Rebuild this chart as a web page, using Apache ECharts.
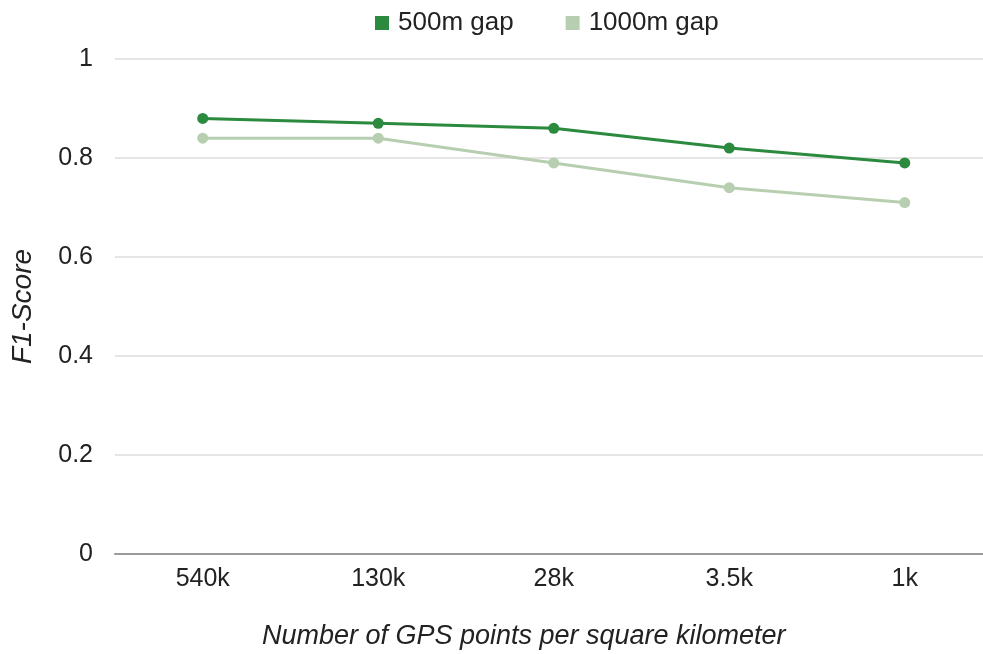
<!DOCTYPE html>
<html><head><meta charset="utf-8">
<script src="https://cdn.jsdelivr.net/npm/echarts@6/dist/echarts.min.js"></script>
<style>html,body{margin:0;padding:0;background:#fff}#c{width:983px;height:654px}</style>
</head><body><div id="c"></div>
<script>
const categories = ['540k', '130k', '28k', '3.5k', '1k'];
const gap500 = [0.88, 0.87, 0.86, 0.82, 0.79];
const gap1000 = [0.84, 0.84, 0.79, 0.74, 0.71];
const yTicks = [0, 0.2, 0.4, 0.6, 0.8, 1];

const chart = echarts.init(document.getElementById('c'));
const font = '"Liberation Sans", Arial, sans-serif';
chart.setOption({
  animation: false,
  textStyle: { fontFamily: font },
  legend: {
    top: 5, left: 370, itemGap: 52, itemWidth: 14, itemHeight: 14,
    icon: 'rect',
    textStyle: { fontSize: 26, color: '#222', fontFamily: font, padding: [0, 0, 0, 4] },
    data: ['500m gap', '1000m gap']
  },
  grid: { left: 115, top: 59, width: 877.5, height: 495, outerBoundsMode: 'none', containLabel: false },
  xAxis: {
    type: 'category', data: categories, boundaryGap: true,
    name: 'Number of GPS points per square kilometer', nameLocation: 'middle', nameGap: 69,
    nameTextStyle: { fontSize: 27, fontStyle: 'italic', color: '#222', fontFamily: font, padding: [0, 60, 0, 0] },
    axisLine: { lineStyle: { color: '#999', width: 2 } },
    axisTick: { show: false },
    axisLabel: { fontSize: 25, color: '#222', margin: 13, fontFamily: font }
  },
  yAxis: {
    type: 'value', min: 0, max: 1, interval: 0.2,
    name: 'F1-Score', nameLocation: 'middle', nameGap: 78,
    nameTextStyle: { fontSize: 28, fontStyle: 'italic', color: '#222', fontFamily: font },
    axisLine: { show: false }, axisTick: { show: false },
    axisLabel: { fontSize: 25, color: '#222', margin: 22, fontFamily: font,
      formatter: v => { const t = yTicks.find(x => Math.abs(x - v) < 1e-9); return t === undefined ? '' : String(t); } },
    splitLine: { lineStyle: { color: '#ddd', width: 1.5 } }
  },
  series: [
    { name: '500m gap', type: 'line', data: gap500, symbol: 'circle', symbolSize: 11,
      itemStyle: { color: '#2b8a3e' }, lineStyle: { width: 3, color: '#2b8a3e' } },
    { name: '1000m gap', type: 'line', data: gap1000, symbol: 'circle', symbolSize: 11,
      itemStyle: { color: '#b7cfb0' }, lineStyle: { width: 3, color: '#b7cfb0' } }
  ]
});
</script></body></html>
